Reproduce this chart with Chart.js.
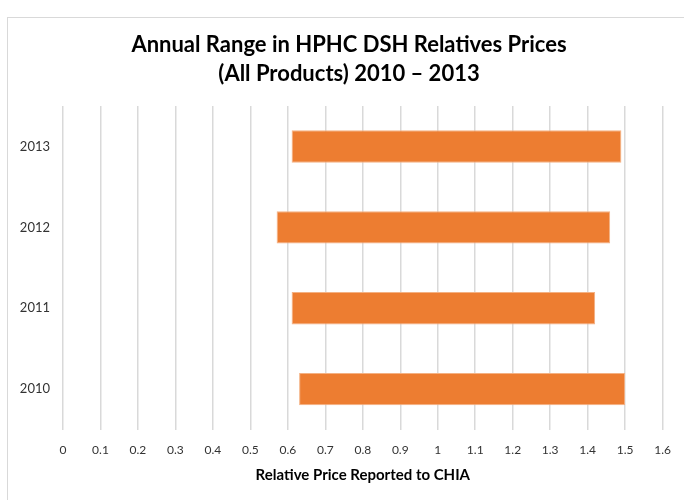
<!DOCTYPE html>
<html>
<head>
<meta charset="utf-8">
<script src="https://cdn.jsdelivr.net/npm/chart.js@4"></script>
<style>
  body { margin: 0; background: #fff; }
  #frame { position: absolute; left: 7px; top: 17px; width: 720px; height: 520px; border: 1px solid #d9d9d9; }
  #wrap { position: absolute; left: 0; top: 0; width: 684px; height: 500px; }
</style>
</head>
<body>
<div id="frame"></div>
<div id="wrap"><canvas id="chart"></canvas></div>
<script>
// Data
const years = ['2013', '2012', '2011', '2010'];
const lowValues = [0.61, 0.57, 0.61, 0.63];
const highValues = [1.49, 1.46, 1.42, 1.50];
const xTicks = [0, 0.1, 0.2, 0.3, 0.4, 0.5, 0.6, 0.7, 0.8, 0.9, 1, 1.1, 1.2, 1.3, 1.4, 1.5, 1.6];

const ranges = years.map((y, i) => [lowValues[i], highValues[i]]);

// shift the title block so it is centred like the original
const titleShift = {
  id: 'titleShift',
  afterLayout(chart) {
    if (chart.titleBlock) chart.titleBlock.left = 35;
  }
};

const ctx = document.getElementById('chart').getContext('2d');
new Chart(ctx, {
  type: 'bar',
  data: {
    labels: years,
    datasets: [{
      label: 'Range',
      data: ranges,
      backgroundColor: '#ED7D31',
      borderColor: '#F4B183',
      borderWidth: 1,
      borderSkipped: false,
      categoryPercentage: 1,
      barPercentage: 0.4
    }]
  },
  plugins: [titleShift],
  options: {
    indexAxis: 'y',
    responsive: true,
    maintainAspectRatio: false,
    animation: false,
    layout: {
      padding: { left: 0, right: 21, top: 0, bottom: 16 }
    },
    plugins: {
      legend: { display: false },
      tooltip: { enabled: false },
      title: {
        display: true,
        text: ['Annual Range in HPHC DSH Relatives Prices', '(All Products) 2010 \u2013 2013'],
        color: '#000',
        font: { family: 'Lato', size: 22, weight: 'bold', lineHeight: 1.32 },
        padding: { top: 30, bottom: 18 }
      }
    },
    scales: {
      x: {
        type: 'linear',
        min: 0,
        max: 1.6,
        afterBuildTicks: (scale) => {
          scale.ticks = xTicks.map(v => ({ value: v }));
        },
        grid: { color: '#d9d9d9', lineWidth: 1.5, drawTicks: false },
        border: { display: false },
        ticks: {
          color: '#333',
          font: { family: 'Lato', size: 12 },
          padding: 13,
          maxRotation: 0,
          autoSkip: false,
          callback: (v) => String(Math.round(v * 10) / 10)
        },
        title: {
          display: true,
          text: 'Relative Price Reported to CHIA',
          color: '#000',
          font: { family: 'Lato', size: 15, weight: 'bold' },
          padding: { top: -4, bottom: 0 }
        }
      },
      y: {
        grid: { display: false },
        border: { display: false },
        ticks: {
          color: '#333',
          font: { family: 'Lato', size: 13 },
          padding: 5
        },
        afterFit: (scale) => { scale.width = 63; }
      }
    }
  }
});
</script>
</body>
</html>
